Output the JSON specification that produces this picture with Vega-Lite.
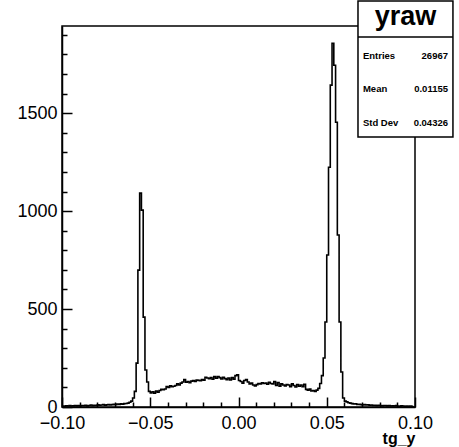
{
"$schema": "https://vega.github.io/schema/vega-lite/v6.json",
"width": 353, "height": 381,
"autosize": "none",
"padding": {"left": 62, "top": 26, "right": 44, "bottom": 40},
"background": "white",
"config": {"view": {"stroke": "black", "strokeWidth": 1.5}, "font": "Liberation Sans", "axis": {"grid": false}},
"datasets": {"hist": [
{"x":-0.100,"count":5},{"x":-0.099,"count":4},{"x":-0.098,"count":6},{"x":-0.097,"count":5},{"x":-0.096,"count":7},
{"x":-0.095,"count":5},{"x":-0.094,"count":6},{"x":-0.093,"count":8},{"x":-0.092,"count":6},{"x":-0.091,"count":7},
{"x":-0.090,"count":5},{"x":-0.089,"count":8},{"x":-0.088,"count":7},{"x":-0.087,"count":9},{"x":-0.086,"count":6},
{"x":-0.085,"count":8},{"x":-0.084,"count":10},{"x":-0.083,"count":7},{"x":-0.082,"count":9},{"x":-0.081,"count":8},
{"x":-0.080,"count":11},{"x":-0.079,"count":9},{"x":-0.078,"count":10},{"x":-0.077,"count":12},{"x":-0.076,"count":9},
{"x":-0.075,"count":11},{"x":-0.074,"count":13},{"x":-0.073,"count":10},{"x":-0.072,"count":12},{"x":-0.071,"count":14},
{"x":-0.070,"count":12},{"x":-0.069,"count":15},{"x":-0.068,"count":13},{"x":-0.067,"count":16},{"x":-0.066,"count":14},
{"x":-0.065,"count":17},{"x":-0.064,"count":18},{"x":-0.063,"count":20},{"x":-0.062,"count":24},{"x":-0.061,"count":30},
{"x":-0.060,"count":46},{"x":-0.059,"count":80},{"x":-0.058,"count":224},{"x":-0.057,"count":699},{"x":-0.056,"count":1092},
{"x":-0.055,"count":1005},{"x":-0.054,"count":459},{"x":-0.053,"count":189},{"x":-0.052,"count":128},{"x":-0.051,"count":80},
{"x":-0.050,"count":72},{"x":-0.049,"count":78},{"x":-0.048,"count":70},{"x":-0.047,"count":82},{"x":-0.046,"count":75},
{"x":-0.045,"count":84},{"x":-0.044,"count":90},{"x":-0.043,"count":88},{"x":-0.042,"count":92},{"x":-0.041,"count":105},
{"x":-0.040,"count":100},{"x":-0.039,"count":108},{"x":-0.038,"count":104},{"x":-0.037,"count":106},{"x":-0.036,"count":110},
{"x":-0.035,"count":118},{"x":-0.034,"count":112},{"x":-0.033,"count":122},{"x":-0.032,"count":128},{"x":-0.031,"count":140},
{"x":-0.030,"count":126},{"x":-0.029,"count":130},{"x":-0.028,"count":124},{"x":-0.027,"count":132},{"x":-0.026,"count":135},
{"x":-0.025,"count":131},{"x":-0.024,"count":138},{"x":-0.023,"count":136},{"x":-0.022,"count":134},{"x":-0.021,"count":140},
{"x":-0.020,"count":137},{"x":-0.019,"count":152},{"x":-0.018,"count":148},{"x":-0.017,"count":144},{"x":-0.016,"count":150},
{"x":-0.015,"count":142},{"x":-0.014,"count":155},{"x":-0.013,"count":147},{"x":-0.012,"count":156},{"x":-0.011,"count":150},
{"x":-0.010,"count":143},{"x":-0.009,"count":152},{"x":-0.008,"count":145},{"x":-0.007,"count":140},{"x":-0.006,"count":148},
{"x":-0.005,"count":138},{"x":-0.004,"count":150},{"x":-0.003,"count":142},{"x":-0.002,"count":160},{"x":-0.001,"count":164},
{"x":0.000,"count":135},{"x":0.001,"count":130},{"x":0.002,"count":122},{"x":0.003,"count":135},{"x":0.004,"count":140},
{"x":0.005,"count":128},{"x":0.006,"count":118},{"x":0.007,"count":122},{"x":0.008,"count":112},{"x":0.009,"count":108},
{"x":0.010,"count":114},{"x":0.011,"count":120},{"x":0.012,"count":118},{"x":0.013,"count":124},{"x":0.014,"count":120},
{"x":0.015,"count":122},{"x":0.016,"count":116},{"x":0.017,"count":126},{"x":0.018,"count":120},{"x":0.019,"count":118},
{"x":0.020,"count":130},{"x":0.021,"count":110},{"x":0.022,"count":125},{"x":0.023,"count":106},{"x":0.024,"count":118},
{"x":0.025,"count":112},{"x":0.026,"count":108},{"x":0.027,"count":115},{"x":0.028,"count":112},{"x":0.029,"count":104},
{"x":0.030,"count":118},{"x":0.031,"count":110},{"x":0.032,"count":102},{"x":0.033,"count":115},{"x":0.034,"count":106},
{"x":0.035,"count":112},{"x":0.036,"count":104},{"x":0.037,"count":116},{"x":0.038,"count":90},{"x":0.039,"count":86},
{"x":0.040,"count":92},{"x":0.041,"count":82},{"x":0.042,"count":84},{"x":0.043,"count":80},{"x":0.044,"count":86},
{"x":0.045,"count":95},{"x":0.046,"count":120},{"x":0.047,"count":160},{"x":0.048,"count":250},{"x":0.049,"count":434},
{"x":0.050,"count":776},{"x":0.051,"count":1224},{"x":0.052,"count":1643},{"x":0.053,"count":1857},{"x":0.054,"count":1745},
{"x":0.055,"count":1454},{"x":0.056,"count":878},{"x":0.057,"count":434},{"x":0.058,"count":179},{"x":0.059,"count":46},
{"x":0.060,"count":30},{"x":0.061,"count":26},{"x":0.062,"count":22},{"x":0.063,"count":20},{"x":0.064,"count":17},
{"x":0.065,"count":15},{"x":0.066,"count":16},{"x":0.067,"count":13},{"x":0.068,"count":14},{"x":0.069,"count":12},
{"x":0.070,"count":11},{"x":0.071,"count":12},{"x":0.072,"count":10},{"x":0.073,"count":11},{"x":0.074,"count":9},
{"x":0.075,"count":10},{"x":0.076,"count":8},{"x":0.077,"count":9},{"x":0.078,"count":7},{"x":0.079,"count":9},
{"x":0.080,"count":8},{"x":0.081,"count":6},{"x":0.082,"count":8},{"x":0.083,"count":7},{"x":0.084,"count":6},
{"x":0.085,"count":7},{"x":0.086,"count":5},{"x":0.087,"count":6},{"x":0.088,"count":5},{"x":0.089,"count":7},
{"x":0.090,"count":5},{"x":0.091,"count":4},{"x":0.092,"count":6},{"x":0.093,"count":5},{"x":0.094,"count":4},
{"x":0.095,"count":5},{"x":0.096,"count":4},{"x":0.097,"count":5},{"x":0.098,"count":3},{"x":0.099,"count":4}
]},
"resolve": {"axis": {"x": "independent", "y": "independent"}},
"layer": [
{"data": {"name": "hist"},
 "mark": {"type": "line", "interpolate": "step-after", "color": "black", "strokeWidth": 1.6},
 "encoding": {
  "x": {"field": "x", "type": "quantitative", "scale": {"domain": [-0.1, 0.1], "nice": false, "zero": false},
    "axis": {"orient": "bottom", "values": [-0.1, -0.05, 0, 0.05, 0.1], "format": ".2f", "tickSize": -10, "labelPadding": 17,
      "labelFontSize": 18, "labelColor": "black", "tickColor": "black", "domainColor": "black", "domainWidth": 1.5, "tickWidth": 1.5,
      "labelFlush": false, "labelOverlap": false,
      "title": "tg_y", "titleFontWeight": "bold", "titleFontSize": 16, "titleColor": "black", "titleAnchor": "end", "titleAlign": "right",
      "titleX": 353, "titleY": 36, "titleBaseline": "alphabetic"}},
  "y": {"field": "count", "type": "quantitative", "scale": {"domain": [0, 1945], "nice": false, "zero": false},
    "axis": {"orient": "left", "values": [0, 500, 1000, 1500], "format": "d", "tickSize": -10, "labelPadding": 15, "labelFontSize": 18,
      "labelColor": "black", "tickColor": "black", "domainColor": "black", "domainWidth": 1.5, "tickWidth": 1.5, "title": null, "labelOverlap": false}}
 }},
{"data": {"name": "hist"},
 "mark": {"type": "line", "opacity": 0},
 "encoding": {
  "x": {"field": "x", "type": "quantitative",
    "axis": {"orient": "bottom", "values": [-0.09,-0.08,-0.07,-0.06,-0.04,-0.03,-0.02,-0.01,0.01,0.02,0.03,0.04,0.06,0.07,0.08,0.09],
      "labels": false, "domain": false, "tickSize": -5, "tickWidth": 1.5, "tickColor": "black", "title": null}},
  "y": {"field": "count", "type": "quantitative",
    "axis": {"orient": "left", "values": [100,200,300,400,600,700,800,900,1100,1200,1300,1400,1600,1700,1800,1900],
      "labels": false, "domain": false, "tickSize": -5, "tickWidth": 1.5, "tickColor": "black", "title": null}}
 }},
{"data": {"values": [{}]},
 "mark": {"type": "rect", "fill": "white", "stroke": "black", "strokeWidth": 1.5},
 "encoding": {
  "x": {"datum": 0.0677, "type": "quantitative", "axis": null}, "x2": {"datum": 0.1215},
  "y": {"datum": 2073, "type": "quantitative", "axis": null}, "y2": {"datum": 1378}
 }},
{"data": {"values": [{}]},
 "mark": {"type": "rule", "stroke": "black", "strokeWidth": 1.5},
 "encoding": {
  "x": {"datum": 0.0677, "type": "quantitative", "axis": null}, "x2": {"datum": 0.1215},
  "y": {"datum": 1889, "type": "quantitative", "axis": null}
 }},
{"data": {"values": [{}]},
 "mark": {"type": "text", "text": "yraw", "font": "Liberation Sans", "fontWeight": "bold", "fontSize": 27, "align": "center", "baseline": "alphabetic", "color": "black"},
 "encoding": {
  "x": {"datum": 0.0946, "type": "quantitative", "axis": null},
  "y": {"datum": 1950, "type": "quantitative", "axis": null}
 }},
{"data": {"values": [{}]},
 "mark": {"type": "text", "text": ["Entries", "Mean", "Std Dev"], "lineHeight": 33.3, "font": "Liberation Sans", "fontWeight": "bold", "fontSize": 9.5, "align": "left", "baseline": "middle", "color": "black"},
 "encoding": {
  "x": {"datum": 0.0705, "type": "quantitative", "axis": null},
  "y": {"datum": 1792, "type": "quantitative", "axis": null}
 }},
{"data": {"values": [{}]},
 "mark": {"type": "text", "text": ["26967", "0.01155", "0.04326"], "lineHeight": 33.3, "font": "Liberation Sans", "fontWeight": "bold", "fontSize": 9.5, "align": "right", "baseline": "middle", "color": "black"},
 "encoding": {
  "x": {"datum": 0.1187, "type": "quantitative", "axis": null},
  "y": {"datum": 1792, "type": "quantitative", "axis": null}
 }}
]
}
